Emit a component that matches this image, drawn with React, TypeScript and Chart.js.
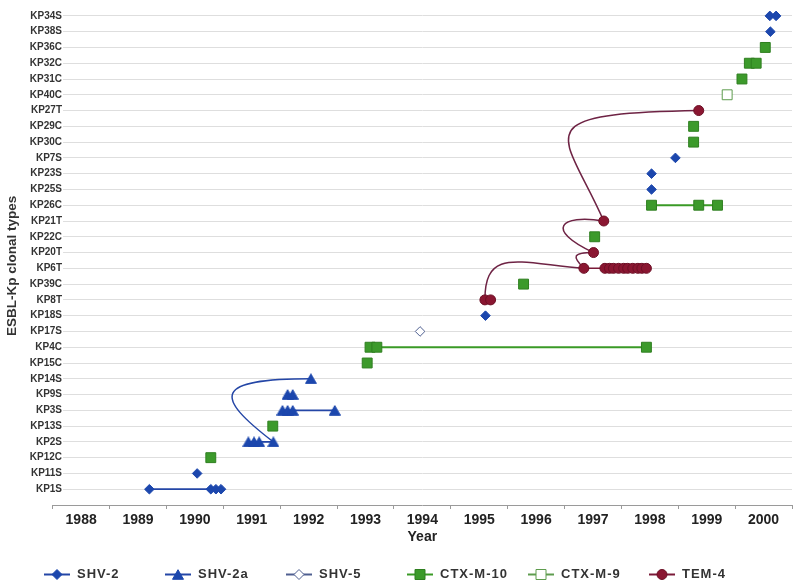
import React, { useEffect, useRef } from 'react';
import { Chart, registerables } from 'chart.js';

Chart.register(...registerables);

// ---------- DATA ----------
const clones = [
  'KP34S', 'KP38S', 'KP36C', 'KP32C', 'KP31C', 'KP40C', 'KP27T', 'KP29C', 'KP30C', 'KP7S',
  'KP23S', 'KP25S', 'KP26C', 'KP21T', 'KP22C', 'KP20T', 'KP6T', 'KP39C', 'KP8T', 'KP18S',
  'KP17S', 'KP4C', 'KP15C', 'KP14S', 'KP9S', 'KP3S', 'KP13S', 'KP2S', 'KP12C', 'KP11S', 'KP1S',
];
const yearTicks = [1988, 1989, 1990, 1991, 1992, 1993, 1994, 1995, 1996, 1997, 1998, 1999, 2000];
const yearEnd = 2001;
const seriesNames = ['SHV-2', 'SHV-2a', 'SHV-5', 'CTX-M-10', 'CTX-M-9', 'TEM-4'];

type Obs = [string, number];
const shv2: Obs[] = [
  ['KP1S', 1989.70], ['KP1S', 1990.78], ['KP1S', 1990.87], ['KP1S', 1990.96],
  ['KP11S', 1990.54], ['KP18S', 1995.61], ['KP25S', 1998.53], ['KP23S', 1998.53],
  ['KP7S', 1998.95], ['KP38S', 2000.62], ['KP34S', 2000.61], ['KP34S', 2000.72],
];
const shv2a: Obs[] = [
  ['KP2S', 1991.44], ['KP2S', 1991.54], ['KP2S', 1991.63], ['KP2S', 1991.88],
  ['KP3S', 1992.04], ['KP3S', 1992.13], ['KP3S', 1992.22], ['KP3S', 1992.96],
  ['KP9S', 1992.13], ['KP9S', 1992.22], ['KP14S', 1992.54],
];
const shv5: Obs[] = [['KP17S', 1994.46]];
const ctxm10: Obs[] = [
  ['KP12C', 1990.78], ['KP13S', 1991.87], ['KP15C', 1993.53],
  ['KP4C', 1993.58], ['KP4C', 1993.70], ['KP4C', 1998.44],
  ['KP39C', 1996.28], ['KP22C', 1997.53],
  ['KP26C', 1998.53], ['KP26C', 1999.36], ['KP26C', 1999.69],
  ['KP30C', 1999.27], ['KP29C', 1999.27], ['KP31C', 2000.12],
  ['KP32C', 2000.25], ['KP32C', 2000.37], ['KP36C', 2000.53],
];
const ctxm9: Obs[] = [['KP40C', 1999.86]];
const tem4: Obs[] = [
  ['KP8T', 1995.60], ['KP8T', 1995.70],
  ['KP6T', 1997.34], ['KP6T', 1997.71], ['KP6T', 1997.79], ['KP6T', 1997.86], ['KP6T', 1997.95],
  ['KP6T', 1998.04], ['KP6T', 1998.11], ['KP6T', 1998.20], ['KP6T', 1998.29], ['KP6T', 1998.36],
  ['KP6T', 1998.44],
  ['KP20T', 1997.51], ['KP21T', 1997.69], ['KP27T', 1999.36],
];
const seriesData = [shv2, shv2a, shv5, ctxm10, ctxm9, tem4];

// curved connectors between clones (series index, from, to)
const links: { series: number; from: Obs; to: Obs }[] = [
  { series: 1, from: ['KP2S', 1991.88], to: ['KP14S', 1992.54] },
  { series: 5, from: ['KP8T', 1995.60], to: ['KP6T', 1997.34] },
  { series: 5, from: ['KP6T', 1997.34], to: ['KP20T', 1997.51] },
  { series: 5, from: ['KP20T', 1997.51], to: ['KP21T', 1997.69] },
  { series: 5, from: ['KP21T', 1997.69], to: ['KP27T', 1999.36] },
];

// ---------- STYLE ----------
const FONT = '"Liberation Sans", Arial, sans-serif';
const BLUE = '#1c47ad';
const GREEN = '#3c9a2b';
const GREEN_DARK = '#2f7f20';
const RED = '#8a1631';
const RED_DARK = '#6c0f25';
// bezier control offsets (px) for each connector: [c1dx, c1dy, c2dx, c2dy]
const linkBends = [
  [-60, -46, -98, 0],
  [0, -53, -65, -5],
  [-12, -12, -21, 0],
  [-49, -23, -44, -7],
  [-39, -89, -179, 3],
];

type Kind = 'diamond' | 'triangle' | 'square' | 'circle';
const styles: { kind: Kind; fill: string; stroke: string; line: string; lw: number; curve: string }[] = [
  { kind: 'diamond', fill: BLUE, stroke: BLUE, line: '#2446a6', lw: 1.8, curve: '#2446a6' },
  { kind: 'triangle', fill: BLUE, stroke: BLUE, line: '#2446a6', lw: 1.8, curve: '#2446a6' },
  { kind: 'diamond', fill: '#ffffff', stroke: '#4f5f90', line: '#4f5f90', lw: 1.2, curve: '#4f5f90' },
  { kind: 'square', fill: GREEN, stroke: GREEN_DARK, line: '#3a9a26', lw: 2, curve: '#3a9a26' },
  { kind: 'square', fill: '#ffffff', stroke: '#5e9c4e', line: '#5e9c4e', lw: 1.2, curve: '#5e9c4e' },
  { kind: 'circle', fill: RED, stroke: RED_DARK, line: '#7a1a38', lw: 1.5, curve: '#6e2344' },
];

const rowOf = (c: string) => clones.length - clones.indexOf(c);

function drawMarker(ctx: CanvasRenderingContext2D, kind: Kind, cx: number, cy: number, fill: string, stroke: string) {
  ctx.beginPath();
  if (kind === 'diamond') {
    ctx.moveTo(cx - 5, cy); ctx.lineTo(cx, cy - 5); ctx.lineTo(cx + 5, cy); ctx.lineTo(cx, cy + 5); ctx.closePath();
  } else if (kind === 'triangle') {
    ctx.moveTo(cx - 5.5, cy + 4.8); ctx.lineTo(cx + 5.5, cy + 4.8); ctx.lineTo(cx, cy - 4.8); ctx.closePath();
  } else if (kind === 'square') {
    ctx.rect(cx - 5, cy - 5, 10, 10);
  } else {
    ctx.arc(cx, cy, 5, 0, Math.PI * 2);
  }
  ctx.fillStyle = fill;
  ctx.fill();
  ctx.lineWidth = 1;
  ctx.strokeStyle = stroke;
  ctx.stroke();
}

export default function App() {
  const ref = useRef<HTMLCanvasElement>(null);

  useEffect(() => {
    const canvas = ref.current!;

    const tri = document.createElement('canvas');
    tri.width = 12; tri.height = 11;
    const tctx = tri.getContext('2d')!;
    drawMarker(tctx, 'triangle', 6, 5.5, BLUE, BLUE);

    const legendImgs = styles.map((s) => {
      const c = document.createElement('canvas');
      c.width = 28; c.height = 13;
      const g = c.getContext('2d')!;
      g.beginPath(); g.moveTo(1, 6.5); g.lineTo(27, 6.5);
      g.strokeStyle = s.line; g.lineWidth = 2; g.stroke();
      drawMarker(g, s.kind, 14, 6.5, s.fill, s.stroke);
      return c;
    });

    const pointStyleFor = (i: number): any => {
      const k = styles[i].kind;
      if (k === 'triangle') return tri;
      if (k === 'diamond') return 'rectRot';
      if (k === 'square') return 'rect';
      return 'circle';
    };
    const radiusFor = (i: number) => {
      const k = styles[i].kind;
      if (k === 'diamond') return 4.8;
      if (k === 'square') return 7;
      return 5;
    };

    const datasets = seriesData.map((arr, i) => {
      const pts = arr
        .map(([c, yr]) => ({ x: yr, y: rowOf(c) }))
        .sort((a, b) => a.y - b.y || a.x - b.x);
      const s = styles[i];
      return {
        label: seriesNames[i],
        data: pts,
        showLine: true,
        borderColor: s.line,
        borderWidth: s.lw,
        tension: 0,
        segment: {
          borderColor: (ctx: any) => (ctx.p0.parsed.y === ctx.p1.parsed.y ? s.line : 'rgba(0,0,0,0)'),
        },
        pointStyle: pointStyleFor(i),
        pointRadius: radiusFor(i),
        pointHoverRadius: radiusFor(i),
        pointBackgroundColor: s.fill,
        pointBorderColor: s.stroke,
        pointBorderWidth: 1,
        clip: false as any,
      };
    });

    const curvePlugin = {
      id: 'curves',
      beforeDatasetsDraw(chart: any) {
        const { ctx, scales } = chart;
        ctx.save();
        links.forEach((lk, i) => {
          const x0 = scales.x.getPixelForValue(lk.from[1]);
          const y0 = scales.y.getPixelForValue(rowOf(lk.from[0]));
          const x3 = scales.x.getPixelForValue(lk.to[1]);
          const y3 = scales.y.getPixelForValue(rowOf(lk.to[0]));
          const b = linkBends[i];
          ctx.beginPath();
          ctx.moveTo(x0, y0);
          ctx.bezierCurveTo(x0 + b[0], y0 + b[1], x3 + b[2], y3 + b[3], x3, y3);
          ctx.strokeStyle = styles[lk.series].curve;
          ctx.lineWidth = 1.5;
          ctx.stroke();
        });
        ctx.restore();
      },
    };

    const legendPlugin = {
      id: 'lineLegend',
      afterDraw(chart: any) {
        const ctx = chart.ctx as CanvasRenderingContext2D;
        const y = chart.height - 13;
        ctx.save();
        ctx.font = `bold 13px ${FONT}`;
        (ctx as any).letterSpacing = '1px';
        ctx.fillStyle = '#333333';
        ctx.textBaseline = 'middle';
        ctx.textAlign = 'left';
        seriesNames.forEach((name, i) => {
          const cx = 57 + i * 121;
          const img = legendImgs[i];
          ctx.drawImage(img, Math.round(cx - img.width / 2), Math.round(y - img.height / 2));
          ctx.fillText(name, cx + 20, y);
        });
        ctx.restore();
      },
    };

    const chart = new Chart(canvas, {
      type: 'scatter',
      data: { datasets: datasets as any },
      plugins: [curvePlugin, legendPlugin],
      options: {
        animation: false,
        responsive: false,
        events: [],
        layout: { padding: { top: 5.5, right: 7.7, bottom: 37, left: 0 } },
        plugins: { legend: { display: false }, tooltip: { enabled: false } },
        scales: {
          x: {
            type: 'linear',
            min: yearTicks[0],
            max: yearEnd,
            afterBuildTicks: (s: any) => {
              s.ticks = [...yearTicks, yearEnd].map((v) => ({ value: v }));
            },
            afterFit: (s: any) => { s.height = 45; },
            grid: { drawOnChartArea: false, drawTicks: true, tickLength: 4, color: '#9a9a9a' },
            border: { display: true, color: '#9a9a9a', width: 1 },
            ticks: {
              autoSkip: false,
              maxRotation: 0,
              labelOffset: 28.45,
              padding: 3,
              color: '#222222',
              font: { family: FONT, size: 14, weight: 'bold' },
              callback: (v: any) => (yearTicks.includes(v) ? String(v) : ''),
            },
            title: {
              display: true,
              text: 'Year',
              color: '#222222',
              font: { family: FONT, size: 14, weight: 'bold' },
              padding: { top: 0, bottom: 4 },
            },
          },
          y: {
            type: 'linear',
            min: 0,
            max: clones.length + 0.5,
            afterBuildTicks: (s: any) => {
              s.ticks = clones.map((_, i) => ({ value: i + 1 }));
            },
            afterFit: (s: any) => { s.width = 52.7; },
            grid: { color: '#dedede', lineWidth: 1, drawTicks: false },
            border: { display: false },
            ticks: {
              autoSkip: false,
              mirror: true,
              crossAlign: 'far',
              padding: -22.9,
              color: '#333333',
              font: { family: FONT, size: 10, weight: 'bold' },
              showLabelBackdrop: true,
              backdropColor: '#ffffff',
              backdropPadding: { top: 0, bottom: 0, left: 0, right: 1 },
              callback: (v: any) => clones[clones.length - v] ?? '',
            } as any,
            title: {
              display: true,
              text: 'ESBL-Kp clonal types     ',
              color: '#333333',
              font: { family: FONT, size: 13.5, weight: 'bold' },
              padding: { top: 4, bottom: 0 },
            },
          },
        },
      } as any,
    });

    return () => chart.destroy();
  }, []);

  return (
    <div style={{ position: 'fixed', left: 0, top: 0, width: 800, height: 587, background: '#ffffff' }}>
      <canvas ref={ref} width={800} height={587} style={{ display: 'block' }} />
    </div>
  );
}
